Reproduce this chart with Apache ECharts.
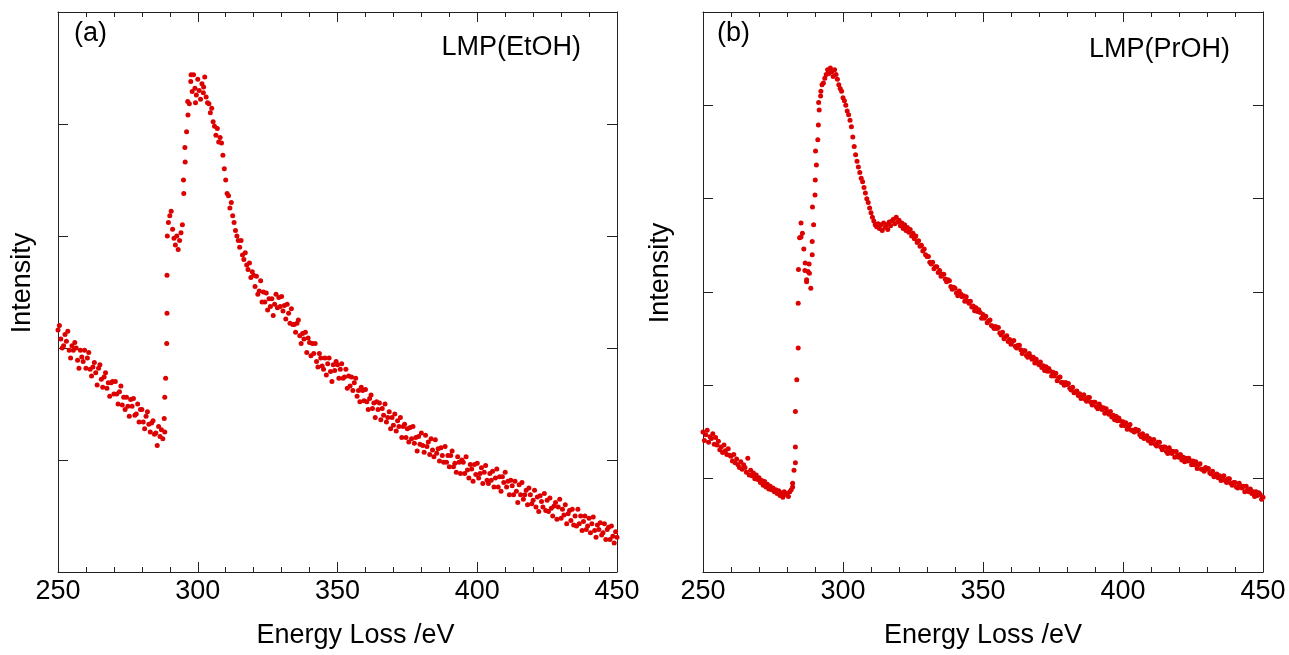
<!DOCTYPE html>
<html>
<head>
<meta charset="utf-8">
<script src="https://cdn.jsdelivr.net/npm/echarts@6/dist/echarts.min.js"></script>
<style>
html,body{margin:0;padding:0;background:#fff;}
#chart{width:1289px;height:655px;}
</style>
</head>
<body>
<div id="chart"></div>
<script>
// ---- data (energy grid: 250 eV, 0.5 eV step) ----
const energyStart = 250;
const energyStep = 0.5;
const xTickLabels = [250, 300, 350, 400, 450];

// Panel (a) LMP(EtOH): intensity (arb. units, 100 per y tick)
const intensityEtOH = [
  216,220,208,200,202,212,206,215,198,191,
  202,198,205,200,189,182,198,192,188,198,
  182,191,196,181,175,183,187,178,167,182,
  185,172,165,174,178,164,169,157,169,170,
  159,170,159,150,161,166,149,156,145,156,
  148,139,154,148,155,140,141,150,134,145,
  145,134,128,139,143,132,125,133,135,123,
  124,113,130,121,127,119,137,173,265,312,
  318,322,306,298,292,300,288,296,303,310,
  338,366,393,408,418,438,429,444,432,426,
  440,430,422,436,428,442,424,419,418,410,
  414,402,398,390,396,384,388,383,372,360,
  350,338,336,325,330,318,312,305,300,296,
  290,296,283,279,285,274,270,276,263,268,
  265,255,264,248,251,260,241,250,241,249,
  234,244,237,244,229,239,248,236,245,237,
  246,233,238,226,239,231,222,235,221,221,
  214,222,225,211,204,213,208,214,196,209,
  205,193,204,195,204,188,183,195,191,184,
  181,191,176,186,191,179,170,185,180,188,
  185,173,181,186,173,174,181,164,175,166,
  174,162,169,173,157,162,152,165,162,153,
  163,152,145,155,158,146,151,138,152,145,
  151,136,146,140,150,134,138,143,128,138,
  131,141,126,135,130,138,120,130,132,120,
  128,116,129,119,130,115,120,108,121,114,
  124,113,107,122,112,116,105,119,109,103,
  118,106,110,99,111,104,98,112,98,104,
  94,104,108,94,97,89,103,98,88,100,
  98,88,103,91,84,96,92,81,96,87,
  97,84,88,93,79,89,95,82,79,88,
  82,90,76,84,92,76,85,72,85,80,
  89,76,81,69,82,77,69,81,72,62,
  78,69,80,65,69,73,60,75,69,61,
  64,73,58,67,54,68,63,58,70,55,
  64,54,66,57,50,59,62,47,58,65,
  48,56,51,60,43,52,55,46,56,42,
  50,41,56,43,50,37,45,50,38,41,
  48,35,43,49,37,31,42,38,44,33,
  35,43,29,38,40,29,41,32,26,36,
  31
];
// extra readings near the edge / peak of (a): [energy, intensity]
const extraEtOH = [[288.2,125],[288.2,156],[288.9,204],[289.0,231],[289.1,300],
  [294.9,350],[295.4,379],[296.4,420],[297.6,444],[299.2,419],[302.1,433]];

// Panel (b) LMP(PrOH)
const intensityPrOH = [
  150,141,147,152,139,145,143,148,137,144,
  136,140,131,134,128,136,130,126,132,125,
  124,119,126,117,121,115,112,118,110,115,
  112,107,122,104,109,103,106,100,104,99,
  101,96,98,93,97,91,94,89,92,88,
  90,86,88,84,87,82,85,80,86,83,
  84,81,86,88,95,109,134,206,288,358,
  374,363,346,331,313,322,320,304,340,372,
  404,436,463,495,510,522,524,529,533,538,
  534,540,536,531,538,533,528,522,518,515,
  508,505,500,494,490,484,477,466,456,447,
  440,434,428,422,418,412,406,400,396,390,
  385,380,376,372,370,373,368,372,366,374,
  369,372,367,375,371,376,378,373,380,375,
  377,371,374,368,372,366,369,364,367,360,
  363,357,360,353,355,349,350,344,346,340,
  338,338,332,330,332,325,327,327,321,323,
  317,319,319,314,311,313,312,306,303,305,
  304,299,296,301,298,295,296,290,295,290,
  288,290,284,285,280,283,279,281,278,272,
  276,272,274,267,269,270,264,263,261,263,
  261,262,256,254,257,250,252,253,247,249,
  244,247,248,242,240,243,243,238,234,237,
  237,232,230,234,231,228,230,224,228,224,
  222,225,219,221,216,220,215,218,215,210,
  214,210,213,205,208,209,203,203,200,203,
  201,202,197,195,198,192,193,194,189,191,
  186,189,190,185,183,187,187,182,179,182,
  182,177,175,180,177,174,176,170,175,171,
  169,172,166,168,163,167,162,165,162,157,
  161,157,160,153,156,158,152,152,150,153,
  151,152,147,145,148,143,145,146,141,143,
  138,141,142,137,135,139,139,134,131,134,
  134,129,127,133,130,127,129,123,129,125,
  123,126,120,123,118,122,119,122,119,115,
  119,115,118,111,115,116,110,110,108,112,
  110,111,106,105,108,102,104,105,101,103,
  98,101,103,98,96,100,100,95,93,96,
  96,91,90,95,92,90,92,86,92,88,
  86,89,84,86,81,86,82,85,83,78,
  80
];
const extraPrOH = [[282.0,91],[283.0,117],[283.0,172],[284.0,240],[284.1,324],[285.0,359],
  [286.4,323],[287.0,311],[287.9,330],[289.0,354],[289.1,391],[290.1,420],[290.2,451],
  [291.2,479],[291.3,503],[292.1,515]];

const panelLabels = ['(a)', '(b)'];
const sampleNames = ['LMP(EtOH)', 'LMP(PrOH)'];
const yMaxTicks = [500, 600];

// ---- build ----
function toPairs(arr, extra) {
  const pts = arr.map((v, i) => [energyStart + energyStep * i, v]);
  return pts.concat(extra);
}

const FONT = '"Liberation Sans", Arial, Helvetica, sans-serif';
const AX = '#222';
const DOT = '#dd0000';

function xAxisDef(grid, pos, showLabel, extra) {
  return Object.assign({
    type: 'value', gridIndex: grid, position: pos,
    min: xTickLabels[0], max: xTickLabels[xTickLabels.length - 1], interval: 50,
    axisLine: { show: true, onZero: false, lineStyle: { color: AX, width: 1 } },
    axisTick: { show: true, inside: true, length: 10, lineStyle: { color: AX } },
    minorTick: { show: true, splitNumber: 5, length: 5, lineStyle: { color: AX } },
    splitLine: { show: false },
    axisLabel: { show: showLabel, fontSize: 27, color: '#000', fontFamily: FONT, margin: 6 }
  }, extra || {});
}
function yAxisDef(grid, pos, max, extra) {
  return Object.assign({
    type: 'value', gridIndex: grid, position: pos,
    min: 0, max: max, interval: 100,
    axisLine: { show: true, onZero: false, lineStyle: { color: AX, width: 1 } },
    axisTick: { show: true, inside: true, length: 10, lineStyle: { color: AX } },
    splitLine: { show: false },
    axisLabel: { show: false }
  }, extra || {});
}

const nameStyle = { fontSize: 27, color: '#000', fontFamily: FONT };

const option = {
  animation: false,
  backgroundColor: '#fff',
  grid: [
    { left: 58, top: 12, width: 559, height: 560 },
    { left: 703, top: 12, width: 560, height: 560 }
  ],
  xAxis: [
    xAxisDef(0, 'bottom', true, { name: 'Energy Loss /eV', nameLocation: 'middle', nameGap: 50,
      nameTextStyle: Object.assign({ padding: [0, 0, 0, 36] }, nameStyle) }),
    xAxisDef(0, 'top', false),
    xAxisDef(1, 'bottom', true, { name: 'Energy Loss /eV', nameLocation: 'middle', nameGap: 50,
      nameTextStyle: nameStyle }),
    xAxisDef(1, 'top', false)
  ],
  yAxis: [
    yAxisDef(0, 'left', yMaxTicks[0], { name: 'Intensity', nameLocation: 'middle', nameGap: 22,
      nameTextStyle: Object.assign({ padding: [0, 0, 0, 18] }, nameStyle) }),
    yAxisDef(0, 'right', yMaxTicks[0]),
    yAxisDef(1, 'left', yMaxTicks[1], { name: 'Intensity', nameLocation: 'middle', nameGap: 29,
      nameTextStyle: Object.assign({ padding: [0, 0, 0, 38] }, nameStyle) }),
    yAxisDef(1, 'right', yMaxTicks[1])
  ],
  series: [
    { type: 'scatter', xAxisIndex: 0, yAxisIndex: 0, data: toPairs(intensityEtOH, extraEtOH),
      symbolSize: 5, itemStyle: { color: DOT, opacity: 1 }, silent: true },
    { type: 'scatter', xAxisIndex: 2, yAxisIndex: 2, data: toPairs(intensityPrOH, extraPrOH),
      symbolSize: 5, itemStyle: { color: DOT, opacity: 1 }, silent: true }
  ],
  graphic: [
    { type: 'text', x: 74, y: 34, style: { text: panelLabels[0], font: '27px ' + FONT, fill: '#000', textAlign: 'left', textVerticalAlign: 'middle' } },
    { type: 'text', x: 717, y: 34, style: { text: panelLabels[1], font: '27px ' + FONT, fill: '#000', textAlign: 'left', textVerticalAlign: 'middle' } },
    { type: 'text', x: 581, y: 48, style: { text: sampleNames[0], font: '27px ' + FONT, fill: '#000', textAlign: 'right', textVerticalAlign: 'middle' } },
    { type: 'text', x: 1230, y: 50, style: { text: sampleNames[1], font: '27px ' + FONT, fill: '#000', textAlign: 'right', textVerticalAlign: 'middle' } }
  ]
};

const chart = echarts.init(document.getElementById('chart'), null, { renderer: 'canvas' });
chart.setOption(option);
</script>
</body>
</html>
